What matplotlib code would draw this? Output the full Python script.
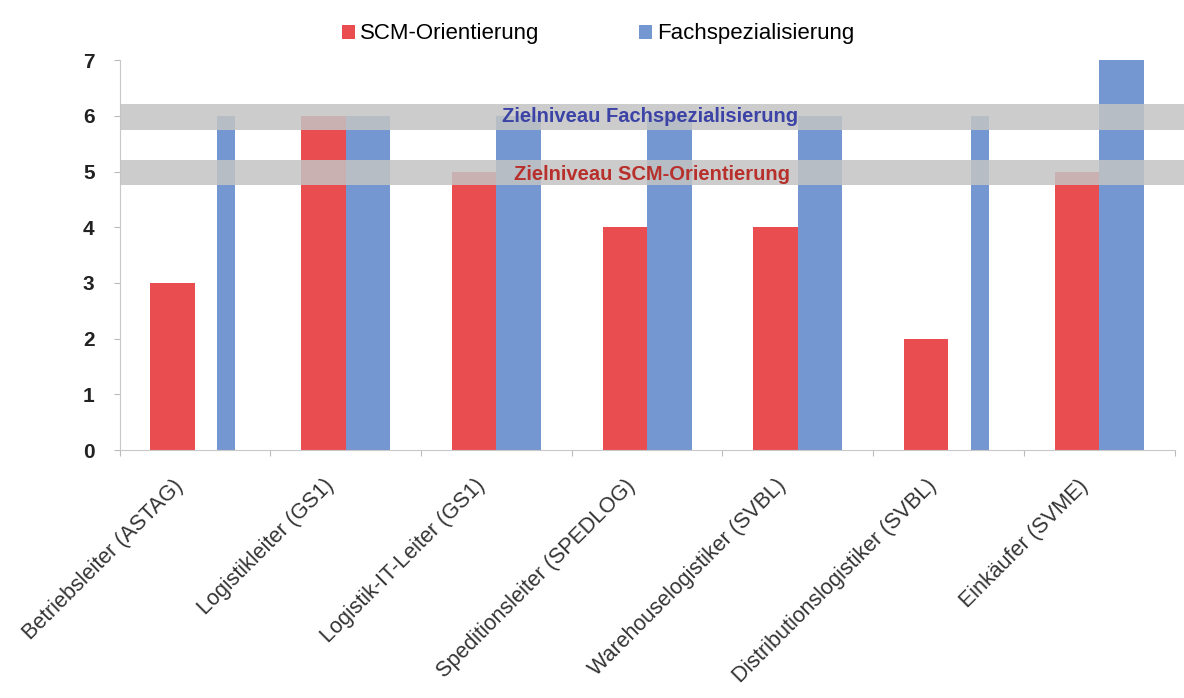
import numpy as np
import matplotlib
matplotlib.use("Agg")
import matplotlib.pyplot as plt
import matplotlib.transforms as mtransforms

# Daten
kategorien = ["Betriebsleiter (ASTAG)", "Logistikleiter (GS1)", "Logistik-IT-Leiter (GS1)",
              "Speditionsleiter (SPEDLOG)", "Warehouselogistiker (SVBL)",
              "Distributionslogistiker (SVBL)", "Einkäufer (SVME)"]
scm = [3, 6, 5, 4, 4, 2, 5]
fach = [6, 6, 6, 6, 6, 6, 7]
ziel_fach = 6
ziel_scm = 5

plt.rcParams['font.family'] = ['Liberation Sans', 'DejaVu Sans']

rot = '#e94d50'
blau = '#7497d1'

fig = plt.figure(figsize=(11.84, 6.98), dpi=100)
ax = fig.add_axes([0.101, 0.355, 0.891, 0.559])

x = np.arange(len(kategorien))
bw = 0.295
# schmale blaue Balken bei Betriebsleiter und Distributionslogistiker
schmal = (0, 5)
fach_breite = [0.12 if i in schmal else bw for i in range(len(kategorien))]
fach_links = [xi + 0.147 if i in schmal else xi for i, xi in enumerate(x)]

ax.bar(x - bw, scm, width=bw, align='edge', color=rot, label='SCM-Orientierung', zorder=2)
ax.bar(fach_links, fach, width=fach_breite, align='edge',
       color=blau, label='Fachspezialisierung', zorder=2)

# Zielniveau-Bänder (reichen bis an den rechten Bildrand)
ax.axhspan(ziel_fach - 0.25, ziel_fach + 0.22, xmax=1.01, color='#c4c4c4', alpha=0.85,
           lw=0, zorder=3, clip_on=False)
ax.axhspan(ziel_scm - 0.25, ziel_scm + 0.2, xmax=1.01, color='#c4c4c4', alpha=0.85,
           lw=0, zorder=3, clip_on=False)
ax.text(3.02, ziel_fach - 0.02, 'Zielniveau Fachspezialisierung', color='#3c43a6',
        fontsize=14.5, fontweight='bold', ha='center', va='center', zorder=4)
ax.text(3.03, ziel_scm - 0.06, 'Zielniveau SCM-Orientierung', color='#b8302c',
        fontsize=14.5, fontweight='bold', ha='center', va='center', zorder=4)

ax.set_xlim(-0.5, len(kategorien) - 0.5)
ax.set_ylim(0, 7)
ax.set_yticks(range(0, 8))
ax.set_xticks(np.arange(len(kategorien) + 1) - 0.5, minor=False)
ax.set_xticklabels([])
ax.set_xticks(x, minor=True)
ax.set_xticklabels(kategorien, minor=True, rotation=45, ha='right', rotation_mode='anchor',
                   fontsize=15.5, color='#333333')
ax.tick_params(axis='x', which='minor', length=0, pad=18)
ax.tick_params(axis='x', which='major', length=4, color='#bbbbbb', direction='out')
ax.tick_params(axis='y', length=4, color='#bbbbbb', labelsize=15, pad=14)
verschiebung = mtransforms.ScaledTranslation(-22 / 100, 0, fig.dpi_scale_trans)
for lab in ax.get_xticklabels(minor=True):
    lab.set_transform(lab.get_transform() + verschiebung)
for lab in ax.get_yticklabels():
    lab.set_fontweight('bold')
    lab.set_color('#222222')

for s in ['top', 'right']:
    ax.spines[s].set_visible(False)
for s in ['left', 'bottom']:
    ax.spines[s].set_color('#c8c8c8')

fig.legend(loc='upper center', bbox_to_anchor=(0.505, 0.995), ncol=2, frameon=False,
           fontsize=16, handlelength=0.6, handleheight=0.6, handletextpad=0.2,
           columnspacing=4.5)

fig.savefig('out.png', dpi=100)
